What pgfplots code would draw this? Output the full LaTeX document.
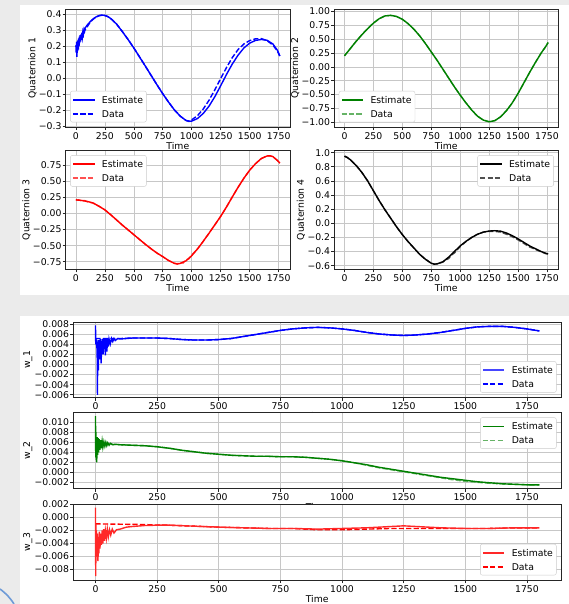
\documentclass[border=0pt]{standalone}
\usepackage{fontspec}
\setmainfont{DejaVu Sans}
\usepackage{pgfplots}
\pgfplotsset{compat=1.18}
\newcommand{\myfont}{\fontsize{9.3bp}{11bp}\selectfont}
\definecolor{bg}{RGB}{235,235,235}
\definecolor{mgreen}{RGB}{0,128,0}
\definecolor{lgreen}{RGB}{102,179,102}
\definecolor{lred}{RGB}{255,80,80}
\definecolor{dgray}{RGB}{80,80,80}
\definecolor{wblue}{RGB}{70,70,255}
\definecolor{wred}{RGB}{255,40,40}
\definecolor{deco}{RGB}{110,155,215}
\tikzset{dat/.style={dash pattern=on 5.2bp off 2.2bp}}
\pgfplotsset{
  base/.style={
    scale only axis, anchor=south west,
    scaled ticks=false,
    grid=major,
    major grid style={draw=black!22, line width=0.6bp},
    axis line style={draw=black!85, line width=0.7bp},
    tick style={draw=black!85, line width=0.6bp},
    major tick length=3.2bp,
    tick align=outside, tick pos=left,
    xtick={0,250,500,750,1000,1250,1500,1750},
    xticklabels={0,250,500,750,1000,1250,1500,1750},
    xlabel={Time},
    font=\myfont,
    every tick label/.append style={font=\myfont},
    every axis label/.append style={font=\myfont},
    xticklabel style={yshift=1.5bp},
    yticklabel style={xshift=2.5bp},
    xlabel style={yshift=3.5bp},
    ylabel style={yshift=-4.5bp},
    axis background/.style={fill=white},
    every axis plot/.append style={line width=1.4bp, mark=none},
    clip=false,
  },
  qax/.style={base, xmin=-88, xmax=1848},
  wax/.style={base, xmin=-90, xmax=1888, width=487.7bp},
}
% legend box: position, anchor, estimate colour, data colour
\newcommand{\leg}[4]{%
  \node[draw=black!20, fill=white, rounded corners=2bp, minimum width=76bp, minimum height=31bp, inner sep=0pt, anchor=#2] (L) at (#1) {};
  \fill[#3] ([xshift=2.7bp,yshift=-8.1bp]L.north west) rectangle ++(21.6bp,-1.5bp);
  \node[anchor=base west, inner sep=0pt, font=\myfont, text=black] at ([xshift=31.5bp,yshift=-12.2bp]L.north west) {Estimate};
  \draw[#4, line width=1.5bp, dat] ([xshift=2.7bp,yshift=-23bp]L.north west) -- ++(21.6bp,0pt);
  \node[anchor=base west, inner sep=0pt, font=\myfont, text=black] at ([xshift=31.5bp,yshift=-26.4bp]L.north west) {Data};
}
\begin{document}
\begin{tikzpicture}
\fill[bg] (0bp,0bp) rectangle (569bp,-604bp);
\useasboundingbox (0bp,0bp) rectangle (569bp,-604bp);
\fill[white] (20bp,-5bp) rectangle (569bp,-295bp);
\fill[white] (20bp,-316bp) rectangle (569bp,-604bp);
\draw[deco, line width=1.6bp] (0bp,-589bp) to[bend left=10] (14bp,-604bp);

% ---------- Quaternion 1 ----------
\begin{axis}[qax, at={(65.7bp,-127bp)}, width=224.3bp, height=118bp,
  ymin=-0.303, ymax=0.433,
  ytick={-0.3,-0.2,-0.1,0,0.1,0.2,0.3,0.4},
  yticklabels={−0.3,−0.2,−0.1,0.0,0.1,0.2,0.3,0.4},
  ylabel={Quaternion 1}]
\addplot[blue, dat] coordinates {
(0,0.2)(25,0.235)(50,0.268)(75,0.298)(100,0.325)(125,0.352)(150,0.37)(175,0.383)(200,0.391)(225,0.394)(250,0.392)(275,0.386)(300,0.374)(350,0.34)(400,0.293)(450,0.243)(500,0.19)(550,0.133)(600,0.076)(650,0.018)(700,-0.04)(750,-0.096)(800,-0.148)(850,-0.196)(900,-0.235)(950,-0.262)(975,-0.266)(1000,-0.258)(1050,-0.232)(1100,-0.19)(1150,-0.135)(1200,-0.07)(1250,0.0)(1300,0.068)(1350,0.13)(1400,0.18)(1450,0.215)(1500,0.236)(1550,0.247)(1600,0.248)(1650,0.236)(1700,0.208)(1740,0.17)(1760,0.14)};
\addplot[blue] coordinates {
(0,0.205)(3,0.16)(6,0.23)(9,0.135)(12,0.21)(15,0.17)(18,0.24)(21,0.18)(24,0.25)(27,0.2)(30,0.26)(33,0.22)(36,0.27)(40,0.23)(44,0.275)(48,0.24)(52,0.285)(56,0.26)(60,0.29)(65,0.275)(70,0.305)(75,0.295)(80,0.315)(90,0.325)(100,0.335)(125,0.355)(150,0.372)(175,0.384)(200,0.392)(225,0.395)(250,0.393)(275,0.386)(300,0.374)(350,0.34)(400,0.293)(450,0.243)(500,0.19)(550,0.133)(600,0.076)(650,0.018)(700,-0.04)(750,-0.096)(800,-0.148)(850,-0.196)(900,-0.235)(950,-0.262)(975,-0.268)(1000,-0.266)(1050,-0.25)(1100,-0.218)(1150,-0.172)(1200,-0.113)(1250,-0.045)(1300,0.025)(1350,0.09)(1400,0.145)(1450,0.19)(1500,0.22)(1550,0.237)(1600,0.243)(1650,0.238)(1700,0.215)(1740,0.175)(1760,0.14)};
\leg{[xshift=4.5bp,yshift=4.7bp]rel axis cs:0,0}{south west}{blue}{blue}
\end{axis}

% ---------- Quaternion 2 ----------
\begin{axis}[qax, at={(334.3bp,-127bp)}, width=224bp, height=118bp,
  ymin=-1.085, ymax=1.045,
  ytick={-1,-0.75,-0.5,-0.25,0,0.25,0.5,0.75,1},
  yticklabels={−1.00,−0.75,−0.50,−0.25,0.00,0.25,0.50,0.75,1.00},
  ylabel={Quaternion 2}]
\addplot[lgreen, dat] coordinates {
(0,0.2)(50,0.33)(100,0.46)(150,0.58)(200,0.69)(250,0.79)(300,0.87)(350,0.92)(400,0.93)(450,0.91)(500,0.86)(550,0.78)(600,0.68)(650,0.56)(700,0.42)(750,0.27)(800,0.12)(850,-0.04)(900,-0.2)(950,-0.36)(1000,-0.51)(1050,-0.65)(1100,-0.78)(1150,-0.89)(1200,-0.96)(1250,-0.99)(1300,-0.97)(1350,-0.9)(1400,-0.79)(1450,-0.65)(1500,-0.48)(1550,-0.29)(1600,-0.1)(1650,0.08)(1700,0.25)(1740,0.37)(1760,0.44)};
\addplot[mgreen] coordinates {
(0,0.2)(50,0.33)(100,0.46)(150,0.58)(200,0.69)(250,0.79)(300,0.87)(350,0.92)(400,0.93)(450,0.91)(500,0.86)(550,0.78)(600,0.68)(650,0.56)(700,0.42)(750,0.27)(800,0.12)(850,-0.04)(900,-0.2)(950,-0.36)(1000,-0.51)(1050,-0.65)(1100,-0.78)(1150,-0.89)(1200,-0.96)(1250,-0.99)(1300,-0.97)(1350,-0.9)(1400,-0.79)(1450,-0.65)(1500,-0.48)(1550,-0.29)(1600,-0.1)(1650,0.08)(1700,0.25)(1740,0.37)(1760,0.44)};
\leg{[xshift=4.5bp,yshift=4.7bp]rel axis cs:0,0}{south west}{mgreen}{lgreen}
\end{axis}

% ---------- Quaternion 3 ----------
\begin{axis}[qax, at={(65.7bp,-269.2bp)}, width=224.3bp, height=118.7bp,
  ymin=-0.865, ymax=0.975,
  ytick={-0.75,-0.5,-0.25,0,0.25,0.5,0.75},
  yticklabels={−0.75,−0.50,−0.25,0.00,0.25,0.50,0.75},
  ylabel={Quaternion 3}]
\addplot[lred, dat] coordinates {
(0,0.205)(25,0.21)(50,0.195)(75,0.2)(100,0.18)(150,0.16)(200,0.11)(250,0.055)(300,-0.02)(350,-0.1)(400,-0.18)(450,-0.255)(500,-0.33)(550,-0.405)(600,-0.48)(650,-0.55)(700,-0.615)(750,-0.67)(800,-0.73)(850,-0.772)(875,-0.78)(900,-0.765)(925,-0.77)(950,-0.72)(975,-0.705)(1000,-0.645)(1050,-0.55)(1100,-0.43)(1150,-0.305)(1200,-0.175)(1250,-0.045)(1300,0.1)(1350,0.255)(1400,0.405)(1450,0.545)(1500,0.67)(1550,0.77)(1600,0.85)(1650,0.89)(1675,0.893)(1700,0.88)(1740,0.82)(1760,0.78)};
\addplot[red] coordinates {
(0,0.21)(50,0.2)(100,0.185)(150,0.16)(200,0.11)(250,0.055)(300,-0.02)(350,-0.1)(400,-0.18)(450,-0.255)(500,-0.33)(550,-0.405)(600,-0.48)(650,-0.55)(700,-0.615)(750,-0.67)(800,-0.73)(850,-0.775)(875,-0.785)(900,-0.775)(950,-0.735)(1000,-0.655)(1050,-0.55)(1100,-0.43)(1150,-0.305)(1200,-0.175)(1250,-0.045)(1300,0.1)(1350,0.255)(1400,0.405)(1450,0.545)(1500,0.67)(1550,0.77)(1600,0.85)(1650,0.89)(1675,0.893)(1700,0.88)(1740,0.82)(1760,0.78)};
\leg{[xshift=4.5bp,yshift=-4.7bp]rel axis cs:0,1}{north west}{red}{lred}
\end{axis}

% ---------- Quaternion 4 ----------
\begin{axis}[qax, at={(334.3bp,-269.2bp)}, width=224bp, height=118.7bp,
  ymin=-0.65, ymax=1.03,
  ytick={-0.6,-0.4,-0.2,0,0.2,0.4,0.6,0.8,1.0},
  yticklabels={−0.6,−0.4,−0.2,0.0,0.2,0.4,0.6,0.8,1.0},
  ylabel={Quaternion 4}]
\addplot[dgray, dat] coordinates {
(0,0.95)(25,0.93)(50,0.9)(100,0.82)(150,0.72)(200,0.6)(250,0.46)(300,0.32)(350,0.19)(400,0.07)(450,-0.05)(500,-0.16)(550,-0.26)(600,-0.35)(650,-0.44)(700,-0.51)(750,-0.565)(775,-0.578)(800,-0.575)(850,-0.55)(875,-0.52)(900,-0.5)(925,-0.45)(950,-0.42)(1000,-0.33)(1050,-0.26)(1100,-0.2)(1150,-0.155)(1200,-0.125)(1250,-0.115)(1300,-0.115)(1350,-0.125)(1400,-0.155)(1450,-0.19)(1500,-0.235)(1550,-0.285)(1600,-0.335)(1650,-0.37)(1700,-0.405)(1740,-0.43)(1760,-0.435)};
\addplot[black] coordinates {
(0,0.95)(25,0.93)(50,0.9)(100,0.82)(150,0.72)(200,0.6)(250,0.46)(300,0.32)(350,0.19)(400,0.07)(450,-0.05)(500,-0.16)(550,-0.26)(600,-0.35)(650,-0.44)(700,-0.51)(750,-0.565)(775,-0.578)(800,-0.575)(850,-0.545)(900,-0.48)(950,-0.4)(1000,-0.32)(1050,-0.255)(1100,-0.2)(1150,-0.155)(1200,-0.125)(1250,-0.11)(1300,-0.105)(1350,-0.112)(1400,-0.138)(1450,-0.175)(1500,-0.22)(1550,-0.27)(1600,-0.32)(1650,-0.36)(1700,-0.4)(1740,-0.425)(1760,-0.435)};
\leg{[xshift=-4.5bp,yshift=-4.7bp]rel axis cs:1,1}{north east}{black}{dgray}
\end{axis}

% ---------- w_1 ----------
\begin{axis}[wax, at={(73.3bp,-397.3bp)}, height=75bp,
  ymin=-0.0065, ymax=0.0083,
  ytick={-0.006,-0.004,-0.002,0,0.002,0.004,0.006,0.008},
  yticklabels={−0.006,−0.004,−0.002,0.000,0.002,0.004,0.006,0.008},
  ylabel={w\_1}]
\addplot[blue, dat] coordinates {
(0,0.0051)(50,0.0051)(100,0.0051)(150,0.0052)(200,0.0052)(250,0.0052)(300,0.0051)(350,0.0049)(400,0.0048)(450,0.0048)(500,0.0049)(550,0.0051)(600,0.0055)(650,0.0059)(700,0.0063)(750,0.0067)(800,0.007)(850,0.0072)(900,0.0073)(950,0.0072)(1000,0.007)(1050,0.0067)(1100,0.0063)(1150,0.006)(1200,0.0058)(1250,0.0057)(1300,0.0058)(1350,0.006)(1400,0.0063)(1450,0.0067)(1500,0.0071)(1550,0.0074)(1600,0.0075)(1650,0.0075)(1700,0.0073)(1750,0.007)(1800,0.0066)};
\addplot[blue] coordinates {
(0,0.0077)(1,0.004)(2,0.005)(3,0.0038)(5,0.0049)(7,0.0012)(8,-0.006)(9,0.0045)(11,0.002)(12,-0.0012)(13,0.0048)(15,0.003)(17,0.0049)(19,0.001)(21,0.005)(23,0.0002)(25,0.0046)(27,0.0035)(29,0.005)(31,0.002)(33,0.0051)(35,0.003)(37,0.005)(40,0.0018)(43,0.005)(46,0.0025)(49,0.0051)(52,0.0035)(55,0.005)(60,0.004)(65,0.0051)(70,0.0045)(75,0.0051)(80,0.0047)(90,0.0051)(100,0.005)(150,0.0052)(200,0.0052)(250,0.0052)(300,0.0051)(350,0.0049)(400,0.0048)(450,0.0048)(500,0.0049)(550,0.0051)(600,0.0055)(650,0.0059)(700,0.0063)(750,0.0067)(800,0.007)(850,0.0072)(900,0.0073)(950,0.0072)(1000,0.007)(1050,0.0067)(1100,0.0063)(1150,0.006)(1200,0.0058)(1250,0.0057)(1300,0.0058)(1350,0.006)(1400,0.0063)(1450,0.0067)(1500,0.0071)(1550,0.0074)(1600,0.0075)(1650,0.0075)(1700,0.0073)(1750,0.007)(1800,0.0066)};
\leg{[xshift=-4.5bp,yshift=4.7bp]rel axis cs:1,0}{south east}{wblue}{blue}
\end{axis}

% ---------- w_2 ----------
\begin{axis}[wax, at={(73.3bp,-488.3bp)}, height=75.6bp,
  ymin=-0.0032, ymax=0.0119,
  ytick={-0.002,0,0.002,0.004,0.006,0.008,0.010},
  yticklabels={−0.002,0.000,0.002,0.004,0.006,0.008,0.010},
  ylabel={w\_2}]
\addplot[lgreen, dat] coordinates {
(0,0.0056)(50,0.0056)(100,0.0055)(150,0.0054)(200,0.0053)(250,0.0051)(300,0.0048)(350,0.0044)(400,0.0041)(450,0.0038)(500,0.0036)(550,0.0034)(600,0.0033)(650,0.0032)(700,0.0032)(750,0.0031)(800,0.0031)(850,0.003)(900,0.0028)(950,0.0026)(1000,0.0023)(1050,0.0019)(1100,0.0014)(1150,0.0009)(1200,0.0005)(1250,0.0001)(1300,-0.0003)(1350,-0.0007)(1400,-0.0011)(1450,-0.0015)(1500,-0.0018)(1550,-0.002)(1600,-0.0022)(1650,-0.0023)(1700,-0.0024)(1750,-0.0025)(1800,-0.0025)};
\addplot[mgreen] coordinates {
(0,0.0112)(1,0.003)(2,0.008)(3,0.0025)(4,0.0065)(5,0.002)(7,0.007)(9,0.0035)(11,0.0068)(13,0.004)(15,0.0066)(18,0.0045)(21,0.0064)(24,0.0048)(27,0.0062)(30,0.005)(34,0.0061)(38,0.0052)(42,0.006)(46,0.0053)(50,0.0059)(55,0.0054)(60,0.0058)(70,0.0055)(80,0.0056)(100,0.0055)(150,0.0054)(200,0.0053)(250,0.0051)(300,0.0048)(350,0.0044)(400,0.0041)(450,0.0038)(500,0.0036)(550,0.0034)(600,0.0033)(650,0.0032)(700,0.0032)(750,0.0031)(800,0.0031)(850,0.003)(900,0.0028)(950,0.0026)(1000,0.0023)(1050,0.0019)(1100,0.0015)(1150,0.001)(1200,0.0006)(1250,0.0002)(1300,-0.0002)(1350,-0.0006)(1400,-0.001)(1450,-0.0013)(1500,-0.0016)(1550,-0.0019)(1600,-0.0021)(1650,-0.0023)(1700,-0.0024)(1750,-0.0025)(1800,-0.0025)};
\leg{[xshift=-4.5bp,yshift=-4.7bp]rel axis cs:1,1}{north east}{mgreen}{lgreen}
\end{axis}

% ---------- w_3 ----------
\begin{axis}[wax, at={(73.3bp,-580bp)}, height=75.7bp,
  ymin=-0.0096, ymax=0.002,
  ytick={-0.008,-0.006,-0.004,-0.002,0,0.002},
  yticklabels={−0.008,−0.006,−0.004,−0.002,0.000,0.002},
  ylabel={w\_3}]
\addplot[red, dat] coordinates {
(0,-0.001)(100,-0.00105)(200,-0.0011)(250,-0.0012)(300,-0.0012)(400,-0.00135)(500,-0.0015)(600,-0.0016)(700,-0.0017)(800,-0.0017)(900,-0.0019)(1000,-0.0019)(1100,-0.0018)(1200,-0.0017)(1300,-0.0017)(1400,-0.0017)(1500,-0.0017)(1600,-0.0017)(1700,-0.0016)(1800,-0.0016)};
\addplot[wred] coordinates {
(0,0.0015)(1,-0.009)(2,-0.001)(3,-0.006)(4,-0.002)(6,-0.005)(8,-0.0025)(10,-0.0067)(12,-0.003)(14,-0.0055)(16,-0.0022)(18,-0.0048)(21,-0.0025)(24,-0.0042)(27,-0.002)(30,-0.004)(33,-0.0018)(36,-0.0036)(40,-0.002)(44,-0.0032)(48,-0.0018)(52,-0.003)(57,-0.0019)(62,-0.0027)(68,-0.0018)(75,-0.0024)(85,-0.0019)(100,-0.0018)(125,-0.0015)(150,-0.0014)(200,-0.00125)(250,-0.0012)(300,-0.0012)(400,-0.00135)(500,-0.0015)(600,-0.0016)(700,-0.0017)(800,-0.0017)(900,-0.0018)(1000,-0.0017)(1100,-0.0016)(1200,-0.0014)(1250,-0.0013)(1300,-0.0014)(1400,-0.0016)(1500,-0.0017)(1600,-0.0017)(1700,-0.0016)(1800,-0.0016)};
\leg{[xshift=-4.5bp,yshift=4.7bp]rel axis cs:1,0}{south east}{wred}{red}
\end{axis}
\end{tikzpicture}
\end{document}
